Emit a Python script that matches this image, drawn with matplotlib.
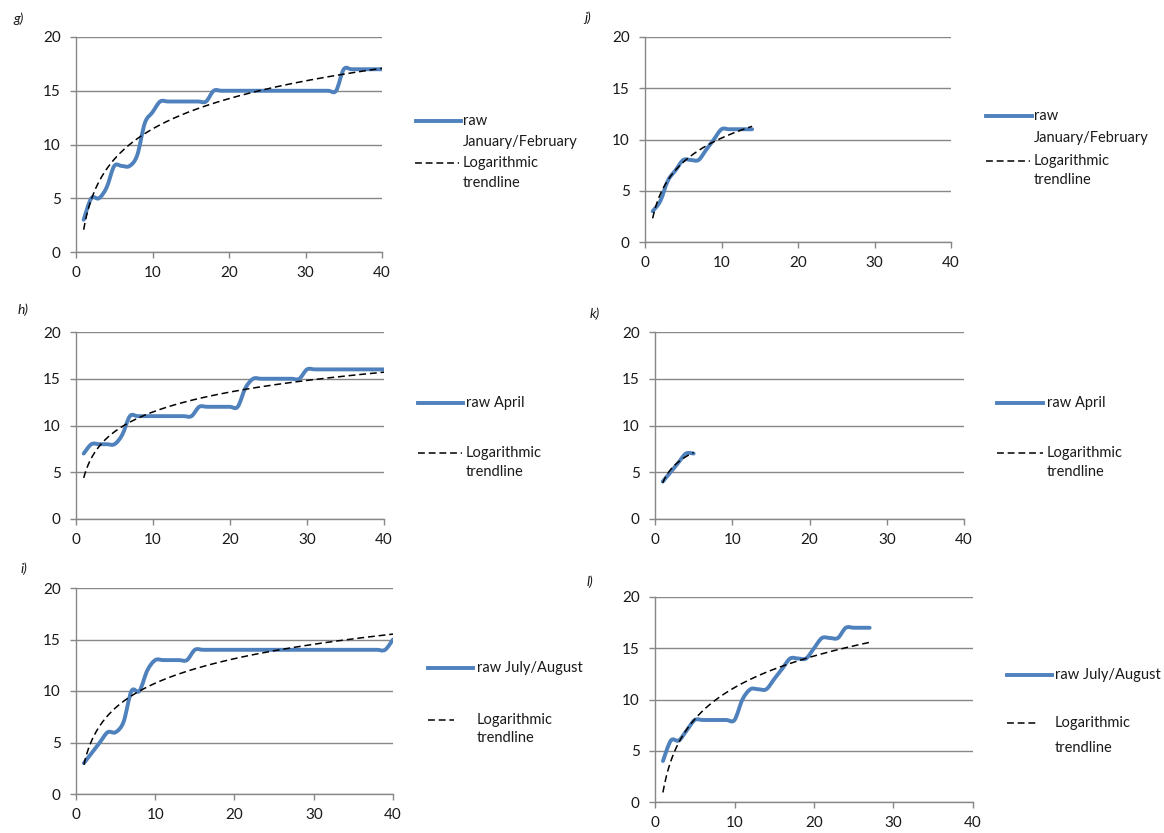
import numpy as np
import matplotlib
matplotlib.use("Agg")
import matplotlib.pyplot as plt
from matplotlib.path import Path
from matplotlib.patches import PathPatch
from matplotlib.lines import Line2D

plt.rcParams['font.family'] = ['Lato', 'DejaVu Sans']

W, H = 1164, 833

# raw counts per panel (x = 1..n)
g_y = [3, 5, 5, 6, 8, 8, 8, 9, 12, 13, 14, 14, 14, 14, 14, 14, 14, 15, 15, 15,
       15, 15, 15, 15, 15, 15, 15, 15, 15, 15, 15, 15, 15, 15, 17, 17, 17, 17, 17, 17]
h_y = [7, 8, 8, 8, 8, 9, 11, 11, 11, 11, 11, 11, 11, 11, 11, 12, 12, 12, 12, 12,
       12, 14, 15, 15, 15, 15, 15, 15, 15, 16, 16, 16, 16, 16, 16, 16, 16, 16, 16, 16]
i_y = [3, 4, 5, 6, 6, 7, 10, 10, 12, 13, 13, 13, 13, 13, 14, 14, 14, 14, 14, 14,
       14, 14, 14, 14, 14, 14, 14, 14, 14, 14, 14, 14, 14, 14, 14, 14, 14, 14, 14, 15]
j_y = [3, 4, 6, 7, 8, 8, 8, 9, 10, 11, 11, 11, 11, 11]
k_y = [4, 5, 6, 7, 7]
l_y = [4, 6, 6, 7, 8, 8, 8, 8, 8, 8, 10, 11, 11, 11, 12, 13, 14, 14, 14, 15,
       16, 16, 16, 17, 17, 17, 17]

labels_jan = ["raw\nJanuary/February", "Logarithmic\ntrendline"]
labels_apr = ["raw April", "Logarithmic\ntrendline"]
labels_jul = ["raw July/August", "Logarithmic\ntrendline"]

BLUE = '#4F81BD'
GRID = '#878787'

# name, values, axes box (px: left, top, right, bottom), tag pos, legend spec
panels = [
    ("g)", g_y, (76, 37, 382, 252), (19, 19),
     dict(line=(416, 461), text_x=463, raw_y=[121, 142], dash=(415, 459), log_y=[163, 183])),
    ("h)", h_y, (76, 332, 384, 519), (23, 310),
     dict(line=(418, 463), text_x=466, raw_y=[403], dash=(418, 462), log_y=[453, 472])),
    ("i)", i_y, (76, 588, 393, 794), (24, 569),
     dict(line=(428, 473), text_x=477, raw_y=[668], dash=(428, 454), log_y=[720, 738])),
    ("j)", j_y, (645, 37, 951, 242), (588, 18),
     dict(line=(986, 1032), text_x=1034, raw_y=[116, 138], dash=(986, 1030), log_y=[161, 180])),
    ("k)", k_y, (655, 332, 964, 519), (595, 314),
     dict(line=(997, 1043), text_x=1047, raw_y=[403], dash=(997, 1043), log_y=[453, 472])),
    ("l)", l_y, (655, 597, 973, 802), (590, 582),
     dict(line=(1007, 1052), text_x=1055, raw_y=[675], dash=(1007, 1038), log_y=[723, 748])),
]
panel_labels = {"g)": labels_jan, "j)": labels_jan, "h)": labels_apr,
                "k)": labels_apr, "i)": labels_jul, "l)": labels_jul}


def smooth_path(x, y):
    # Excel-like smoothed line: Catmull-Rom segments as cubic Beziers
    pts = np.column_stack([x, y]).astype(float)
    n = len(pts)
    verts = [pts[0]]
    codes = [Path.MOVETO]
    for i in range(n - 1):
        p0 = pts[max(i - 1, 0)]
        p1 = pts[i]
        p2 = pts[i + 1]
        p3 = pts[min(i + 2, n - 1)]
        verts += [p1 + (p2 - p0) / 6, p2 - (p3 - p1) / 6, p2]
        codes += [Path.CURVE4] * 3
    return Path(verts, codes)


def fx(px):
    return px / W


def fy(py):
    return 1 - py / H


fig = plt.figure(figsize=(W / 100, H / 100), dpi=100)

for tag, vals, box, tagpos, leg in panels:
    l, t, r, b = box
    ax = fig.add_axes([fx(l), fy(b), (r - l) / W, (b - t) / H])
    x = np.arange(1, len(vals) + 1)
    y = np.array(vals, dtype=float)

    ax.add_patch(PathPatch(smooth_path(x, y), facecolor='none', edgecolor=BLUE,
                           lw=2.8, capstyle='round', joinstyle='round', zorder=3))

    a, c = np.polyfit(np.log(x), y, 1)
    xt = np.linspace(1, x[-1], 200)
    ax.plot(xt, a * np.log(xt) + c, color='black', lw=1.1, dashes=(4.5, 2.5), zorder=4)

    ax.set_xlim(0, 40)
    ax.set_ylim(0, 20)
    ax.set_xticks([0, 10, 20, 30, 40])
    ax.set_yticks([0, 5, 10, 15, 20])
    ax.grid(axis='y', color=GRID, lw=1.0)
    ax.set_axisbelow(True)
    for s in ['top', 'right']:
        ax.spines[s].set_visible(False)
    for s in ['left', 'bottom']:
        ax.spines[s].set_color(GRID)
        ax.spines[s].set_linewidth(1.0)
    ax.tick_params(axis='both', colors=GRID, labelcolor='#1a1a1a', labelsize=11,
                   length=4, width=1.0, direction='out')
    ax.tick_params(axis='x', pad=6)
    ax.tick_params(axis='y', pad=7)
    ax.patch.set_alpha(0)

    fig.text(fx(tagpos[0]), fy(tagpos[1]), tag, fontsize=10, style='italic',
             ha='center', va='center', color='#1a1a1a')

    # legend, drawn by hand to match the Excel layout
    raw_lab, log_lab = panel_labels[tag]
    fig.add_artist(Line2D([fx(leg['line'][0]), fx(leg['line'][1])],
                          [fy(leg['raw_y'][0])] * 2, color=BLUE, lw=2.8,
                          transform=fig.transFigure))
    for line_txt, yy in zip(raw_lab.split("\n"), leg['raw_y']):
        fig.text(fx(leg['text_x']), fy(yy), line_txt, fontsize=10.5,
                 ha='left', va='center', color='#1a1a1a')
    fig.add_artist(Line2D([fx(leg['dash'][0]), fx(leg['dash'][1])],
                          [fy(leg['log_y'][0])] * 2, color='black', lw=1.1,
                          dashes=(4.5, 2.5), transform=fig.transFigure))
    for line_txt, yy in zip(log_lab.split("\n"), leg['log_y']):
        fig.text(fx(leg['text_x']), fy(yy), line_txt, fontsize=10.5,
                 ha='left', va='center', color='#1a1a1a')

fig.savefig("out.png", dpi=100)
